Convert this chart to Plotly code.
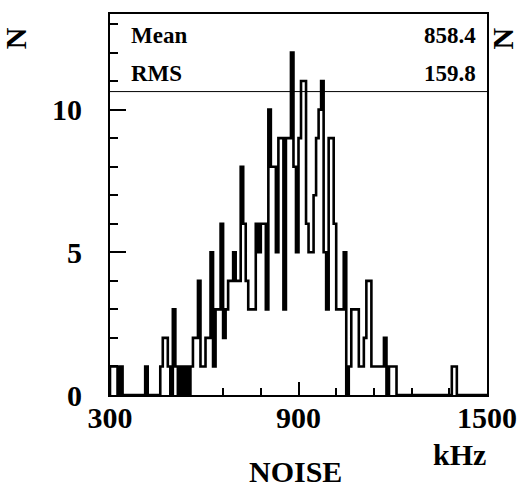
import plotly.graph_objects as go

# Noise-frequency histogram: 150 bins of 8 kHz from 300 to 1500 kHz
x_min = 300
x_max = 1500
bin_width = 8

counts = [
    1, 1, 1, 0, 1, 0, 0, 0, 0, 0,      # 300 - 380
    0, 0, 0, 0, 1, 0, 0, 0, 0, 0,      # 380 - 460
    1, 2, 2, 1, 0, 3, 1, 0, 1, 0,      # 460 - 540
    1, 0, 1, 2, 2, 4, 1, 1, 2, 2,      # 540 - 620
    5, 1, 3, 3, 6, 2, 3, 4, 4, 5,      # 620 - 700
    4, 4, 8, 6, 4, 3, 3, 3, 6, 5,      # 700 - 780
    6, 6, 3, 10, 8, 8, 5, 9, 9, 3,     # 780 - 860
    9, 9, 12, 8, 5, 9, 11, 11, 6, 5,   # 860 - 940
    5, 7, 9, 10, 11, 5, 3, 9, 9, 6,    # 940 - 1020
    3, 3, 3, 5, 0, 1, 3, 3, 3, 1,      # 1020 - 1100
    1, 2, 4, 4, 1, 1, 1, 1, 1, 2,      # 1100 - 1180
    0, 1, 1, 1, 0, 0, 0, 0, 0, 0,      # 1180 - 1260
    0, 0, 0, 0, 0, 0, 0, 0, 0, 0,      # 1260 - 1340
    0, 0, 0, 0, 0, 0, 1, 1, 0, 0,      # 1340 - 1420
    0, 0, 0, 0, 0, 0, 0, 0, 0, 0,      # 1420 - 1500
]

x_tick_vals = [300, 900, 1500]
x_tick_text = ["300", "900", "1500"]
x_minor_vals = [420, 540, 660, 780, 1020, 1140, 1260, 1380]
y_tick_vals = [0, 5, 10]
y_tick_text = ["0", "5", "10"]

stat_labels = ["Mean", "RMS"]
stat_values = ["858.4", "159.8"]

x_title = "NOISE"
x_unit = "kHz"
y_title = "N"

# step outline: start on the baseline, rise into the first bin, close on the baseline
edges = [x_min + i * bin_width for i in range(len(counts) + 1)]
step_x = [x_min] + edges + [x_max]
step_y = [0] + counts + [counts[-1], 0]

SERIF = "Liberation Serif"

fig = go.Figure()
fig.add_trace(go.Scatter(
    x=step_x, y=step_y, mode="lines",
    line=dict(shape="hv", color="black", width=2.6),
    hoverinfo="skip", showlegend=False,
))

W, H = 529, 492
L, R, T, B = 110, 493, 12, 395


def px(x):
    return (x - L) / (R - L)


def py(y):
    return (B - y) / (B - T)


annotations = []
for label, value, yy in zip(stat_labels, stat_values, [34, 72]):
    annotations.append(dict(text=label, x=px(129), y=py(yy), xanchor="left", yanchor="middle"))
    annotations.append(dict(text=value, x=px(484), y=py(yy), xanchor="right", yanchor="middle"))
for a in annotations:
    a.update(xref="paper", yref="paper", showarrow=False,
             font=dict(family=SERIF, size=23, color="black", weight="bold"))

big = dict(family=SERIF, size=30, color="black", weight="bold")
annotations += [
    dict(text=x_unit, x=px(494), y=py(455), xanchor="right", yanchor="middle"),
    dict(text=x_title, x=px(298), y=py(472), xanchor="center", yanchor="middle"),
    dict(text=y_title, x=px(14), y=py(37), xanchor="center", yanchor="middle", textangle=-90),
    dict(text=y_title, x=px(509), y=py(37), xanchor="center", yanchor="middle", textangle=-90),
]
for a in annotations[-4:]:
    a.update(xref="paper", yref="paper", showarrow=False, font=big)

fig.update_layout(
    width=W, height=H,
    margin=dict(l=L, r=W - R, t=T, b=H - B, pad=0),
    paper_bgcolor="white", plot_bgcolor="white",
    annotations=annotations,
    shapes=[dict(type="line", xref="paper", yref="paper", x0=0, x1=1,
                 y0=py(90), y1=py(90), line=dict(color="black", width=1))],
    xaxis=dict(
        range=[x_min, x_max], tickvals=x_tick_vals, ticktext=x_tick_text,
        ticks="inside", ticklen=13, tickwidth=1.5, tickcolor="black",
        minor=dict(tickvals=x_minor_vals, ticks="inside", ticklen=7,
                   tickwidth=1.5, tickcolor="black"),
        showline=True, linewidth=2, linecolor="black", mirror=True,
        showgrid=False, zeroline=False, tickfont=big, ticklabelstandoff=-5,
    ),
    yaxis=dict(
        range=[0, 13.35], tickvals=y_tick_vals, ticktext=y_tick_text,
        ticks="inside", ticklen=16, tickwidth=1.5, tickcolor="black",
        minor=dict(dtick=1, ticks="inside", ticklen=8, tickwidth=1.5,
                   tickcolor="black"),
        showline=True, linewidth=2, linecolor="black", mirror=True,
        showgrid=False, zeroline=False, tickfont=big, ticklabelstandoff=20,
    ),
)

fig.write_html("out.html")
